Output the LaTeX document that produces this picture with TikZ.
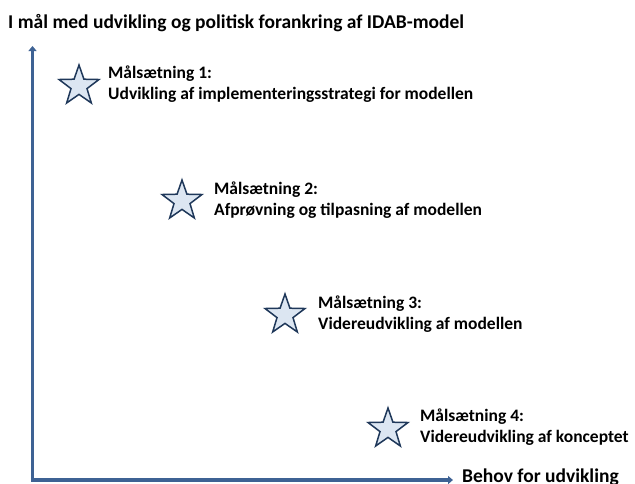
\documentclass[tikz,border=0pt]{standalone}
\usepackage{fontspec}
\setmainfont{Carlito}
\usetikzlibrary{shapes.geometric,arrows.meta}
\definecolor{axisblue}{RGB}{62,98,148}
\definecolor{starfill}{RGB}{220,230,242}
\definecolor{staredge}{RGB}{31,56,90}
\begin{document}
\begin{tikzpicture}[x=1pt,y=-1pt,
  goalstar/.style={star, star points=5, star point ratio=2.5, minimum size=42pt,
    inner sep=0pt, fill=starfill, draw=staredge, line width=1.5pt},
  lbl/.style={font=\bfseries\fontsize{17.5}{21}\selectfont, anchor=base west, inner sep=0pt},
  biglbl/.style={lbl, font=\bfseries\fontsize{19.5}{23}\selectfont},
  axis/.style={draw=axisblue, line width=3.5pt, -{Triangle[length=5pt,width=8pt]}}]
\useasboundingbox (0,0) rectangle (635,483);

% heading
\node[biglbl] (title) at (8,28) {I mål med udvikling og politisk forankring af IDAB-model};

% axes
\coordinate (ybot) at (32.5,481.75);
\coordinate (ytop) at (32.5,46);
\coordinate (xbeg) at (30.75,480);
\coordinate (xend) at (453,480);
\draw[axis] (ybot) -- (ytop);
\draw[axis] (xbeg) -- (xend);
\node[biglbl] (xlabel) at (462,482) {Behov for udvikling};

% goals
\node[goalstar] (s1) at (79,86) {};
\node[lbl] (g1a) at (108,78) {Målsætning 1:};
\node[lbl] (g1b) at (108,99) {Udvikling af implementeringsstrategi for modellen};

\node[goalstar] (s2) at (182,201) {};
\node[lbl] (g2a) at (214,194) {Målsætning 2:};
\node[lbl] (g2b) at (214,215) {Afprøvning og tilpasning af modellen};

\node[goalstar] (s3) at (285,315) {};
\node[lbl] (g3a) at (318,308) {Målsætning 3:};
\node[lbl] (g3b) at (318,329) {Videreudvikling af modellen};

\node[goalstar] (s4) at (388,429) {};
\node[lbl] (g4a) at (420,421) {Målsætning 4:};
\node[lbl] (g4b) at (420,442) {Videreudvikling af konceptet};
\end{tikzpicture}
\end{document}
